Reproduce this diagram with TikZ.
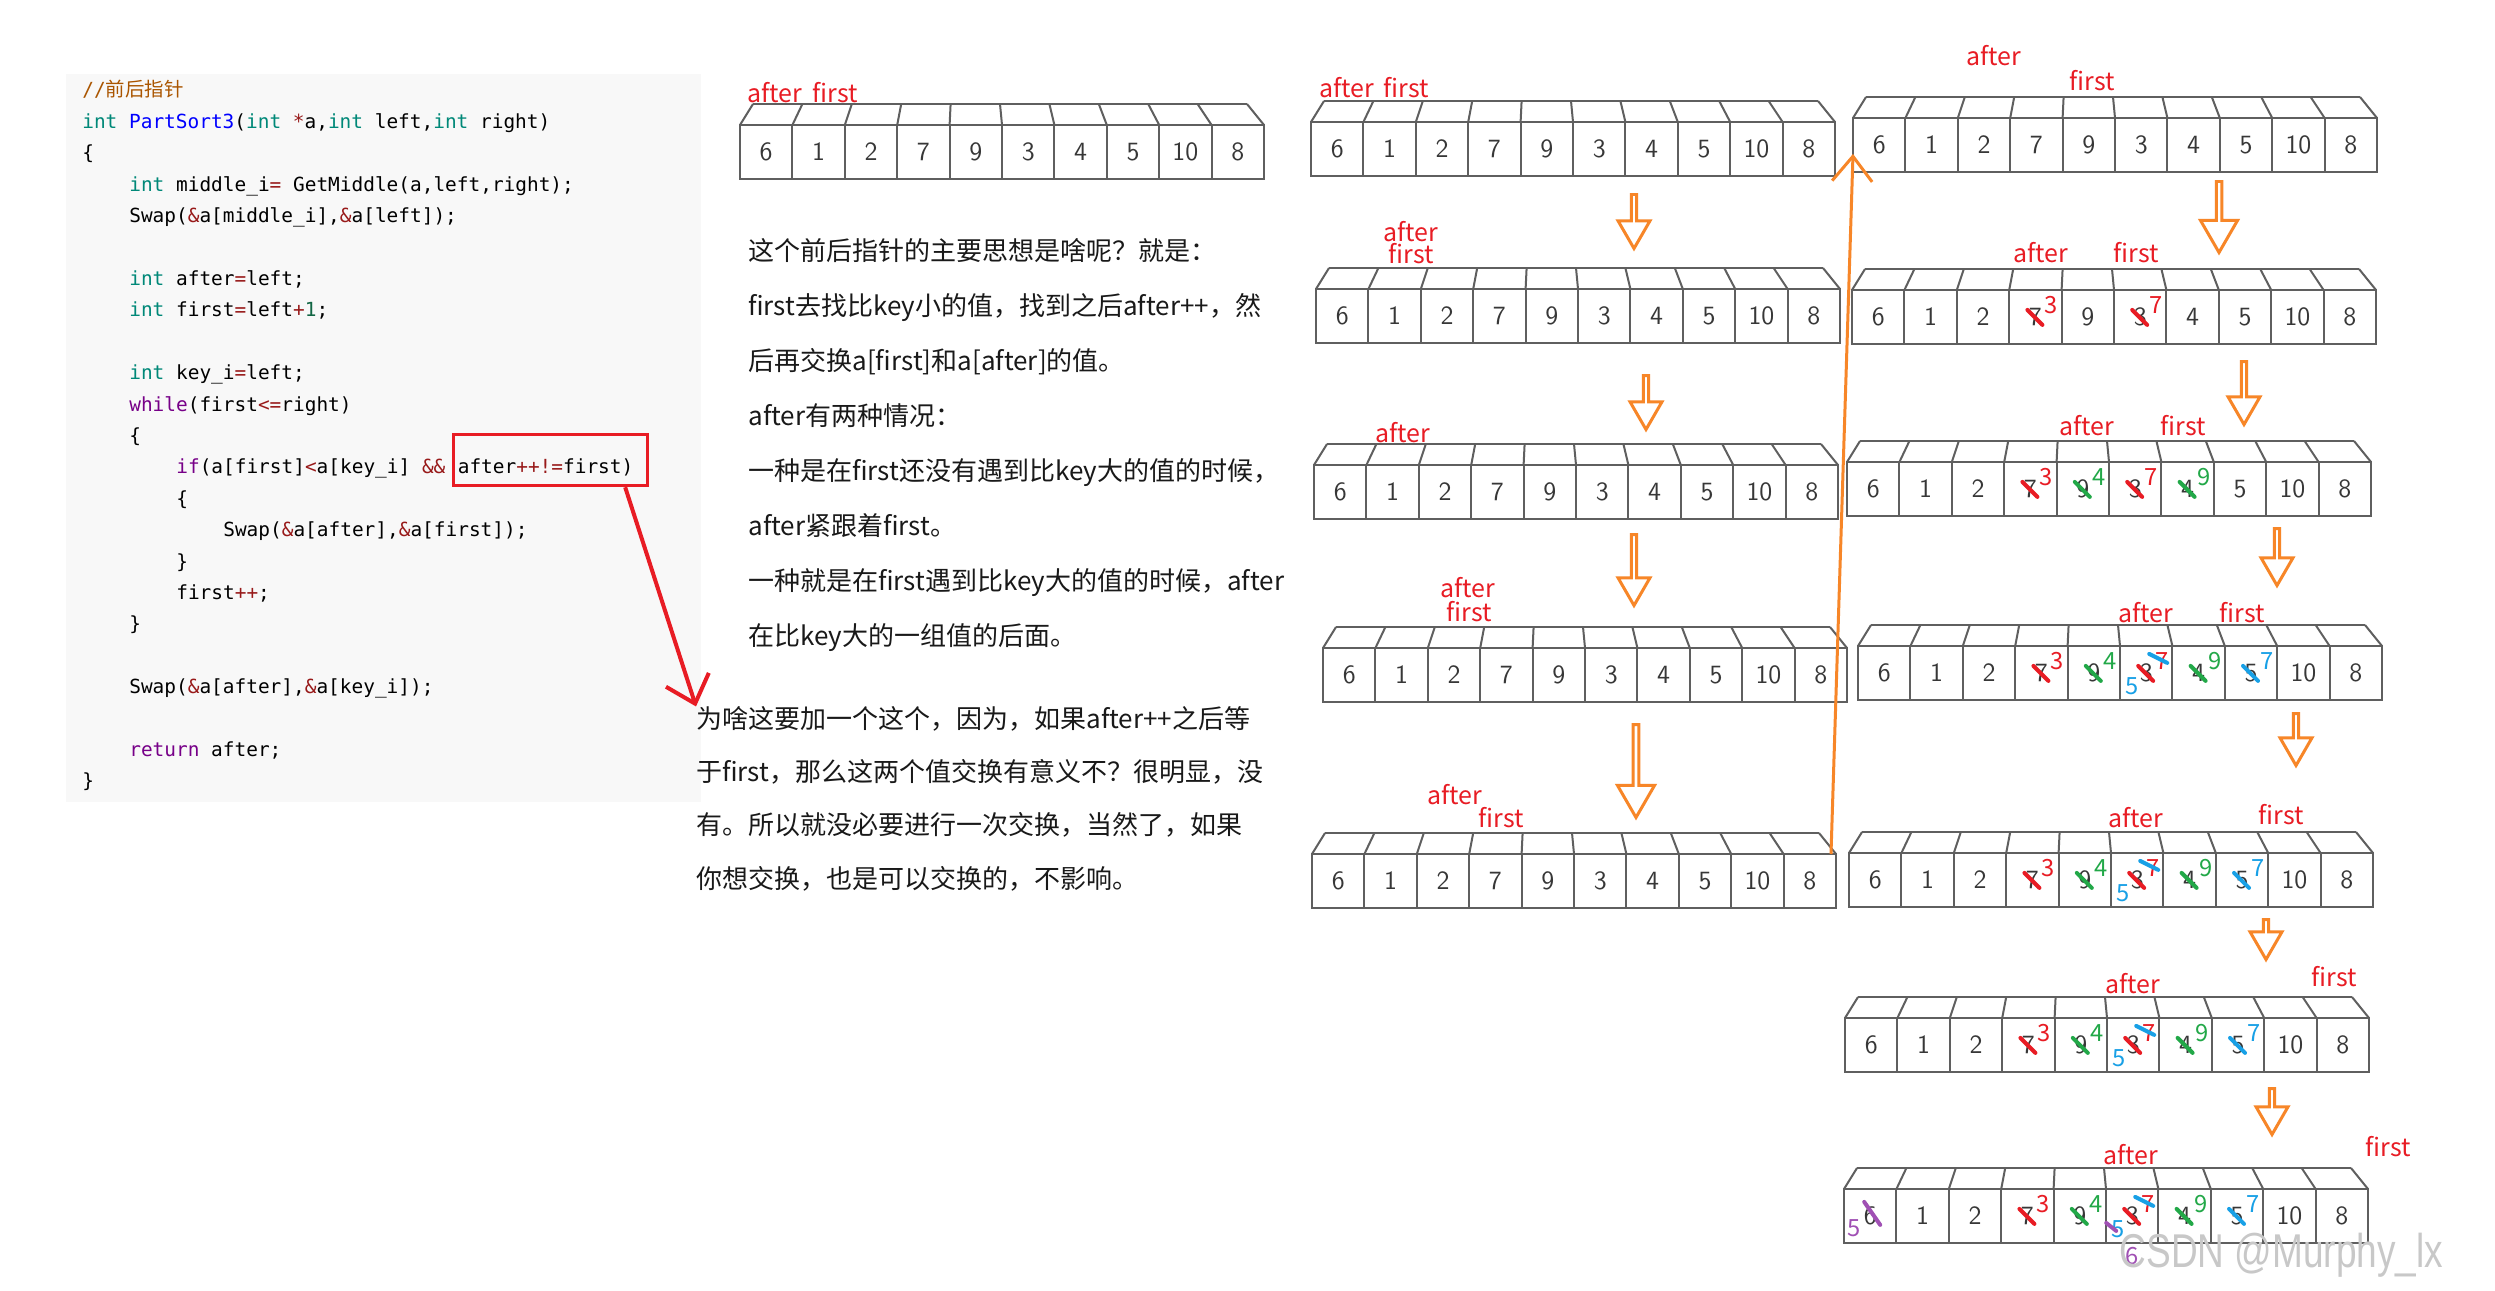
\documentclass[tikz,border=0pt]{standalone}
\usepackage{fontspec}
\usepackage{xcolor}
\usepackage{tikz}
\usetikzlibrary{shapes.arrows, arrows.meta, positioning, calc, fit}
\newfontfamily\cjk{Noto Sans CJK SC}
\newfontfamily\codefont{DejaVu Sans Mono}
\newfontfamily\markfont{Liberation Sans}
\definecolor{codebg}{RGB}{248,248,248}
\definecolor{cmtype}{RGB}{0,136,120}
\definecolor{cmdef}{RGB}{0,0,255}
\definecolor{cmkw}{RGB}{119,0,136}
\definecolor{cmop}{RGB}{152,26,26}
\definecolor{cmnum}{RGB}{17,102,68}
\definecolor{cmcmt}{RGB}{170,85,0}
\definecolor{myred}{RGB}{232,28,36}
\definecolor{mygreen}{RGB}{34,168,72}
\definecolor{myblue}{RGB}{24,160,230}
\definecolor{mypurple}{RGB}{160,80,180}
\definecolor{myorange}{RGB}{247,134,40}
\definecolor{boxgray}{RGB}{95,95,95}
\definecolor{digitgray}{RGB}{55,55,55}
\definecolor{textdark}{RGB}{25,25,25}
\definecolor{wmgray}{RGB}{200,200,200}
\newcommand\ctype[1]{\textcolor{cmtype}{#1}}
\newcommand\cfun[1]{\textcolor{cmdef}{#1}}
\newcommand\ckw[1]{\textcolor{cmkw}{#1}}
\newcommand\cop[1]{\textcolor{cmop}{#1}}
\newcommand\cnum[1]{\textcolor{cmnum}{#1}}
\newcommand\ccmt[1]{\textcolor{cmcmt}{#1}}
\tikzset{
  codeline/.style={anchor=base west, inner sep=0pt,
    font=\codefont\fontsize{11.06pt}{14pt}\selectfont},
  para/.style={anchor=base west, inner sep=0pt, align=left, text=textdark,
    font=\cjk\fontsize{14.8pt}{31.3pt}\selectfont},
  cell/.style={rectangle, draw=boxgray, line width=0.04cm, anchor=north west,
    minimum width=1.048cm, minimum height=1.076cm, inner sep=0pt, outer sep=0pt,
    text=digitgray, font=\sffamily\fontsize{15pt}{15pt}\selectfont},
  topface/.style={draw=boxgray, line width=0.04cm},
  ptr/.style={inner sep=0pt, text=myred, font=\cjk\fontsize{14.2pt}{14pt}\selectfont},
  fixnum/.style={inner sep=0pt, font=\cjk\fontsize{13.5pt}{14pt}\selectfont},
  scribble/.style={line width=0.08cm, line cap=round},
  downarrow/.style={single arrow, draw=myorange, line width=0.06cm, rotate=-90,
    anchor=tail, inner sep=0pt, single arrow tip angle=60,
    single arrow head extend=0.15cm, minimum width=0.64cm, minimum height=#1},
  bigdownarrow/.style={downarrow=#1, single arrow head extend=0.17cm, minimum width=0.74cm},
  hlbox/.style={draw=myred, line width=0.06cm, inner sep=0pt},
  redarrow/.style={-{Straight Barb[length=0.5cm, width=0.9cm]}, draw=myred, line width=0.08cm},
  orangeline/.style={-{Straight Barb[length=0.5cm, width=0.8cm]}, draw=myorange, line width=0.06cm}
}
% one row of ten boxes, #2 = front top-left corner
\newcommand\cellrow[2]{%
  \begin{scope}[shift={(#2)}]
    \foreach \val [count=\cnt] in {6,1,2,7,9,3,4,5,10,8}
      \node[cell] (#1-\cnt) at ({52.4*(\cnt-1)},0) {\val};
  \end{scope}
  \draw[topface] ([shift={(13,-21)}]#1-1.north west) -- ([shift={(-17,-21)}]#1-10.north east);
  \foreach \cnt in {1,...,10}
    \draw[topface] (#1-\cnt.north west) -- ++({16-3*\cnt},-21);
  \draw[topface] (#1-10.north east) -- ++(-17,-21);
}
% crossed-out value with the new one beside it
\newcommand\fixval[3]{%
  \draw[scribble, #2] ([shift={(-8,-7)}]#1.center) -- ([shift={(7,8)}]#1.center);
  \node[fixnum, text=#2] (#1-new) at ([shift={(16,-12)}]#1.center) {#3};
}

\begin{document}
\begin{tikzpicture}[x=0.02cm, y=-0.02cm]
  \path[use as bounding box, fill=white] (0,0) rectangle (2495,1291);

  % code
  \fill[codebg] (66,74) rectangle (701,802);
  \node[codeline] (c1) at (82,97) {\ccmt{//{\cjk 前后指针}}};
  \node[codeline] (c2) at (82,128.4) {\ctype{int} \cfun{PartSort3}(\ctype{int} \cop{*}a,\ctype{int} left,\ctype{int} right)};
  \node[codeline] (c3) at (82,159.8) {\{};
  \node[codeline] (c4) at (129,191.2) {\ctype{int} middle\_i\cop{=} GetMiddle(a,left,right);};
  \node[codeline] (c5) at (129,222.6) {Swap(\cop{\&}a[middle\_i],\cop{\&}a[left]);};
  \node[codeline] (c7) at (129,285.4) {\ctype{int} after\cop{=}left;};
  \node[codeline] (c8) at (129,316.8) {\ctype{int} first\cop{=}left\cop{+}\cnum{1};};
  \node[codeline] (c10) at (129,379.6) {\ctype{int} key\_i\cop{=}left;};
  \node[codeline] (c11) at (129,411) {\ckw{while}(first\cop{<=}right)};
  \node[codeline] (c12) at (129,442.4) {\{};
  \node[codeline] (c13) at (176,473.8) {\ckw{if}(a[first]\cop{<}a[key\_i] \cop{\&\&}\hspace*{0.602em}};
  \node[codeline] (hl) at (c13.base east) {after\cop{++!=}first)};
  \node[codeline] (c14) at (176,505.2) {\{};
  \node[codeline] (c15) at (223,536.6) {Swap(\cop{\&}a[after],\cop{\&}a[first]);};
  \node[codeline] (c16) at (176,568) {\}};
  \node[codeline] (c17) at (176,599.4) {first\cop{++};};
  \node[codeline] (c18) at (129,630.8) {\}};
  \node[codeline] (c20) at (129,693.6) {Swap(\cop{\&}a[after],\cop{\&}a[key\_i]);};
  \node[codeline] (c22) at (129,756.4) {\ckw{return} after;};
  \node[codeline] (c23) at (82,787.8) {\}};
  \node[hlbox, fit={([shift={(-4,-33)}]hl.west) ([shift={(14,18)}]hl.east)}] (box) {};

  % explanation (anchored at the last line)
  \node[para] (p1) at (748,645) {这个前后指针的主要思想是啥呢？就是：\\
    first去找比key小的值，找到之后after++，然\\
    后再交换a[first]和a[after]的值。\\
    after有两种情况：\\
    一种是在first还没有遇到比key大的值的时候，\\
    after紧跟着first。\\
    一种就是在first遇到比key大的值的时候，after\\
    在比key大的一组值的后面。};
  \node[para, font=\cjk\fontsize{14.8pt}{30.2pt}\selectfont] (p2) at (696,888) {为啥这要加一个这个，因为，如果after++之后等\\
    于first，那么这两个值交换有意义不？很明显，没\\
    有。所以就没必要进行一次交换，当然了，如果\\
    你想交换，也是可以交换的，不影响。};
  \draw[redarrow] ([xshift=-0.48cm]box.south east) -- (p2.north west);

  % rows
  \cellrow{start}{740,125}
  \cellrow{L1}{1311,122}
  \cellrow{L2}{1316,289}
  \cellrow{L3}{1314,465}
  \cellrow{L4}{1323,648}
  \cellrow{L5}{1312,854}
  \cellrow{R1}{1853,118}
  \cellrow{R2}{1852,290}
  \cellrow{R3}{1847,462}
  \cellrow{R4}{1858,646}
  \cellrow{R5}{1849,853}
  \cellrow{R6}{1845,1018}
  \cellrow{R7}{1844,1189}

  % swaps
  \foreach \rw in {R2,R3,R4,R5,R6,R7} {
    \fixval{\rw-4}{myred}{3}
    \fixval{\rw-6}{myred}{7}
  }
  \foreach \rw in {R3,R4,R5,R6,R7} {
    \fixval{\rw-5}{mygreen}{4}
    \fixval{\rw-7}{mygreen}{9}
  }
  \foreach \rw in {R4,R5,R6,R7} {
    \draw[scribble, myblue] ([shift={(3,-19)}]\rw-6.center) -- ([shift={(21,-10)}]\rw-6.center);
    \node[fixnum, text=myblue] (\rw-6-low) at ([shift={(-14,13)}]\rw-6.center) {5};
    \fixval{\rw-8}{myblue}{7}
  }
  \draw[scribble, mypurple] ([shift={(-6,-14)}]R7-1.center) -- ([shift={(10,9)}]R7-1.center);
  \node[fixnum, text=mypurple] (R7-1-new) at ([shift={(-16,12)}]R7-1.center) {5};
  \draw[scribble, mypurple] ([shift={(-26,7)}]R7-6.center) -- ([shift={(-16,15)}]R7-6.center);
  \node[fixnum, text=mypurple] (R7-6-under) at ([shift={(0,40)}]R7-6.center) {6};

  % pointers
  \node[ptr] (start-a) at (775,93) {after};
  \node[ptr] (start-f) at (835,93) {first};
  \node[ptr] (L1-a) at (1347,88) {after};
  \node[ptr] (L1-f) at (1406,88) {first};
  \node[ptr] (L2-a) at (1411,232) {after};
  \node[ptr] (L2-f) at (1411,254) {first};
  \node[ptr] (L3-a) at (1403,433) {after};
  \node[ptr] (L4-a) at (1468,588) {after};
  \node[ptr] (L4-f) at (1469,612) {first};
  \node[ptr] (L5-a) at (1455,795) {after};
  \node[ptr] (L5-f) at (1501,818) {first};
  \node[ptr] (R1-a) at (1994,56) {after};
  \node[ptr] (R1-f) at (2092,81) {first};
  \node[ptr] (R2-a) at (2041,253) {after};
  \node[ptr] (R2-f) at (2136,253) {first};
  \node[ptr] (R3-a) at (2087,426) {after};
  \node[ptr] (R3-f) at (2183,426) {first};
  \node[ptr] (R4-a) at (2146,613) {after};
  \node[ptr] (R4-f) at (2242,613) {first};
  \node[ptr] (R5-a) at (2136,818) {after};
  \node[ptr] (R5-f) at (2281,815) {first};
  \node[ptr] (R6-a) at (2133,984) {after};
  \node[ptr] (R6-f) at (2334,977) {first};
  \node[ptr] (R7-a) at (2131,1155) {after};
  \node[ptr] (R7-f) at (2388,1147) {first};

  % steps
  \node[downarrow=1.08cm] (d1) at (1634,193) {};
  \node[downarrow=1.08cm] (d2) at (1646,374) {};
  \node[downarrow=1.42cm] (d3) at (1634,533) {};
  \node[bigdownarrow=1.86cm] (d4) at (1636,723) {};
  \node[bigdownarrow=1.42cm] (e1) at (2219,180) {};
  \node[downarrow=1.26cm] (e2) at (2244,360) {};
  \node[downarrow=1.14cm] (e3) at (2277,527) {};
  \node[downarrow=1.04cm] (e4) at (2296,712) {};
  \node[downarrow=0.8cm] (e5) at (2266,918) {};
  \node[downarrow=0.92cm] (e6) at (2272,1087) {};
  \draw[orangeline] ([xshift=-0.1cm]L5-10.north east) -- ([yshift=-0.18cm]R1-1.west);

  \node[text=wmgray, xscale=0.78, anchor=base east,
    font=\markfont\fontsize{27pt}{27pt}\selectfont] (mark) at (2448,1267) {CSDN @Murphy\_lx};
\end{tikzpicture}
\end{document}
